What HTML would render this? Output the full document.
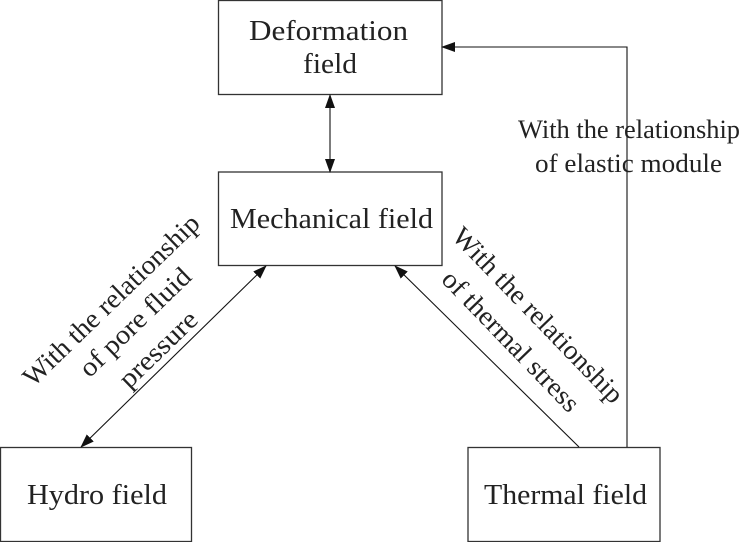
<!DOCTYPE html>
<html><head><meta charset="utf-8"><style>
html,body{margin:0;padding:0;background:#fff;}
svg{display:block;}
text{font-family:"Liberation Serif","Times New Roman",Times,serif;fill:#222;}
</style></head><body>
<svg width="750" height="542" viewBox="0 0 750 542" xmlns="http://www.w3.org/2000/svg">
<defs>
<marker id="ah" markerWidth="14" markerHeight="10" refX="13" refY="5" orient="auto-start-reverse" markerUnits="userSpaceOnUse">
<path d="M0,0 L14,5 L0,10 Z" fill="#111"/>
</marker>
</defs>
<g fill="none" stroke="#333" stroke-width="1.3">
<rect x="218.5" y="0.5" width="223.5" height="94"/>
<rect x="218.5" y="172" width="223.5" height="93.5"/>
<rect x="0.5" y="447.5" width="191" height="94"/>
<rect x="468" y="447.5" width="192" height="94"/>
</g>
<g stroke="#111" stroke-width="1.1" fill="none">
<line x1="330" y1="95" x2="330" y2="172" marker-start="url(#ah)" marker-end="url(#ah)"/>
<polyline points="627,447 627,47 442,47" marker-end="url(#ah)"/>
<line x1="81" y1="447" x2="266" y2="266" marker-start="url(#ah)" marker-end="url(#ah)"/>
<line x1="579" y1="447" x2="395" y2="266" marker-end="url(#ah)"/>
</g>
<g font-size="28">
<text x="249" y="40" textLength="159" lengthAdjust="spacingAndGlyphs">Deformation</text>
<text x="303" y="73" textLength="54" lengthAdjust="spacingAndGlyphs">field</text>
<text x="230" y="228" textLength="203" lengthAdjust="spacingAndGlyphs">Mechanical field</text>
<text x="27" y="504" textLength="140" lengthAdjust="spacingAndGlyphs">Hydro field</text>
<text x="484" y="504" textLength="163" lengthAdjust="spacingAndGlyphs">Thermal field</text>
</g>
<g font-size="26">
<text x="518" y="138" textLength="222" lengthAdjust="spacingAndGlyphs">With the relationship</text>
<text x="535" y="172" textLength="187" lengthAdjust="spacingAndGlyphs">of elastic module</text>
</g>
<g font-size="27" text-anchor="middle">
<text transform="translate(111,300) rotate(-44)" y="9" textLength="234" lengthAdjust="spacingAndGlyphs">With the relationship</text>
<text transform="translate(135,322) rotate(-44)" y="9" textLength="144" lengthAdjust="spacingAndGlyphs">of pore fluid</text>
<text transform="translate(158,349) rotate(-44)" y="9" textLength="98" lengthAdjust="spacingAndGlyphs">pressure</text>
<text transform="translate(538,315) rotate(46)" y="9" textLength="233" lengthAdjust="spacingAndGlyphs">With the relationship</text>
<text transform="translate(511,341) rotate(46)" y="9" textLength="185" lengthAdjust="spacingAndGlyphs">of thermal stress</text>
</g>
</svg>
</body></html>
